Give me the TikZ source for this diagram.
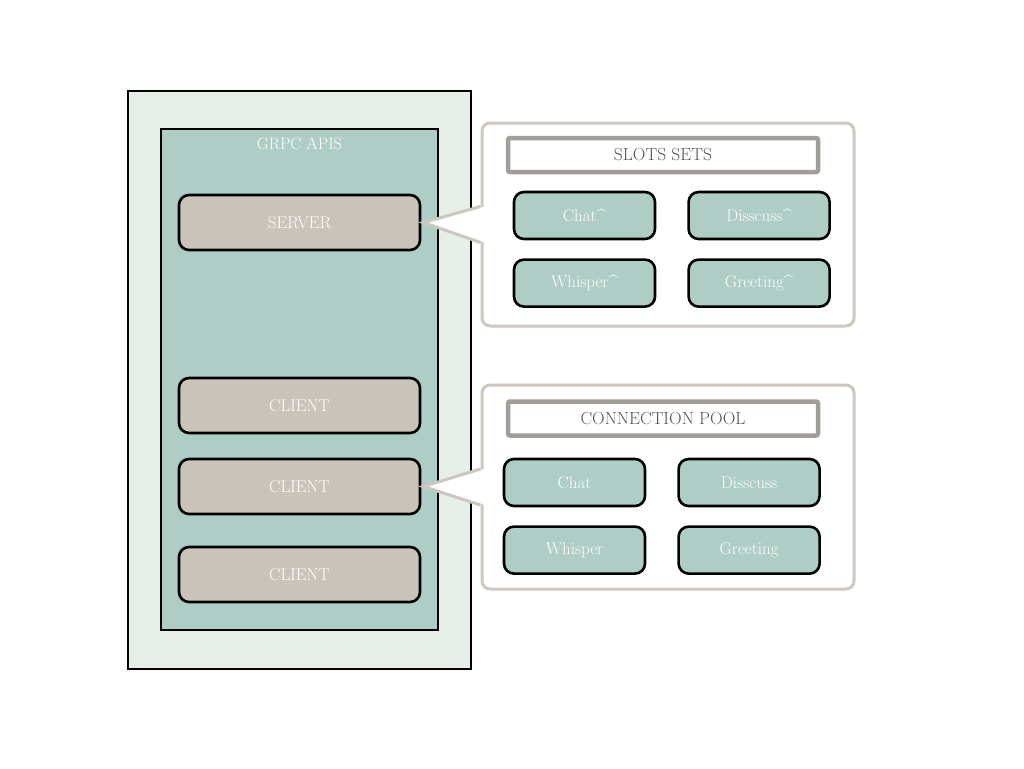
\documentclass[tikz,border=0pt]{standalone}
\usetikzlibrary{positioning,calc}
\definecolor{sagelight}{HTML}{E6EFE7}
\definecolor{sageteal}{HTML}{AECDC5}
\definecolor{stone}{HTML}{C9C3BA}
\definecolor{panelrim}{HTML}{CCC7BF}
\definecolor{titlerim}{HTML}{A19E99}
\definecolor{titleink}{HTML}{555555}

\begin{document}
\begin{tikzpicture}[
    x=1pt, y=-1pt,
    host/.style     ={draw=black, line width=2.2pt, fill=sagelight, minimum width=343pt, minimum height=578pt},
    apibox/.style   ={draw=black, line width=2.2pt, fill=sageteal, minimum width=277pt, minimum height=501pt},
    apilabel/.style ={text=white, font=\fontsize{16.5}{19}\selectfont},
    role/.style     ={draw=black, line width=2.6pt, fill=stone, rounded corners=10pt, text=white,
                      minimum width=241pt, minimum height=55pt, font=\fontsize{17}{20}\selectfont},
    panel/.style    ={draw=panelrim, line width=3pt, fill=white, rounded corners=8pt},
    pointer/.style  ={draw=panelrim, line width=3pt, miter limit=20},
    title/.style    ={draw=titlerim, line width=4.5pt, fill=white, rounded corners=2pt, text=titleink,
                      minimum width=310pt, minimum height=34pt, font=\fontsize{17.5}{20}\selectfont},
    slot/.style     ={draw=black, line width=2.6pt, fill=sageteal, rounded corners=10pt, text=white,
                      minimum width=141pt, minimum height=47pt, font=\fontsize{17}{20}\selectfont}
]
\useasboundingbox (0,0) rectangle (1024,768);

% GRPC host side
\node[host] (host) at (299.5, 380) {};
\node[apibox] (api) at (299.5, 379.5) {};
\node[apilabel, below=6pt of api.north] (apititle) {GRPC APIS};

\node[role] (srv)  at (299.5, 222.5) {SERVER};
\node[role] (cli1) at (299.5, 405.5) {CLIENT};
\node[role] (cli2) at (299.5, 486.5) {CLIENT};
\node[role] (cli3) at (299.5, 574.5) {CLIENT};

% slots sets panel
\node[panel, minimum width=372pt, minimum height=203pt] (slotpanel) at (668, 224.5) {};
\fill[white] ($(slotpanel.west)+(4,-18)$) -- ([xshift=2pt]srv.east) -- ($(slotpanel.west)+(4,18)$) -- cycle;
\draw[pointer] ($(slotpanel.west)+(0,-18)$) -- ([xshift=2pt]srv.east) -- ($(slotpanel.west)+(0,18)$);
\node[title] (slottitle) at (663, 155) {SLOTS SETS};
\node[slot] (schat) at (584.5, 215.5) {Chat\^{}};
\node[slot, right=31pt of schat] (sdisc) {Disscuss\^{}};
\node[slot, below=18pt of schat] (swhis) {Whisper\^{}};
\node[slot, right=31pt of swhis] (sgreet) {Greeting\^{}};

% connection pool panel
\node[panel, minimum width=372pt, minimum height=204pt] (poolpanel) at (668, 487) {};
\fill[white] ($(poolpanel.west)+(4,-18)$) -- ([xshift=2pt]cli2.east) -- ($(poolpanel.west)+(4,18)$) -- cycle;
\draw[pointer] ($(poolpanel.west)+(0,-18)$) -- ([xshift=2pt]cli2.east) -- ($(poolpanel.west)+(0,18)$);
\node[title] (pooltitle) at (663, 418.5) {CONNECTION POOL};
\node[slot] (pchat) at (574.5, 482.5) {Chat};
\node[slot, right=31pt of pchat] (pdisc) {Disscuss};
\node[slot, below=18pt of pchat] (pwhis) {Whisper};
\node[slot, right=31pt of pwhis] (pgreet) {Greeting};
\end{tikzpicture}
\end{document}
